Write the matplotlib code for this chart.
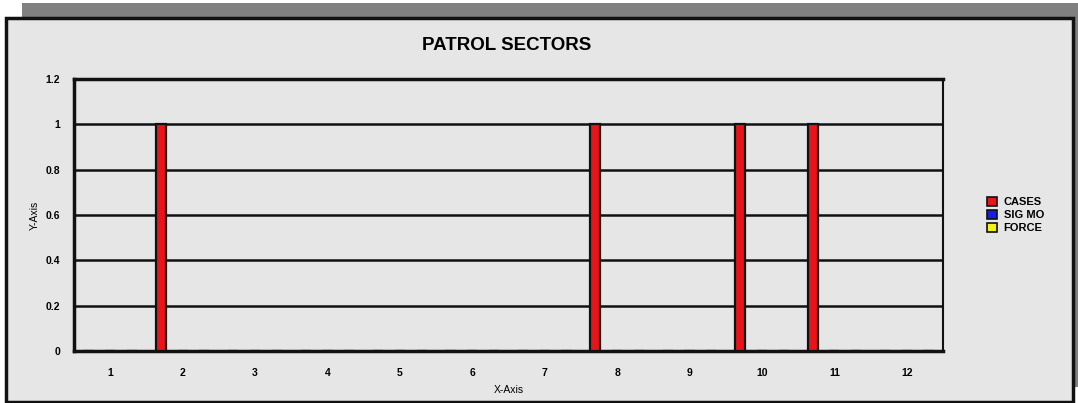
import matplotlib
matplotlib.use("Agg")
from matplotlib import pyplot as plt
from matplotlib.patches import Rectangle, Patch
from matplotlib.ticker import FormatStrFormatter

sectors = [1, 2, 3, 4, 5, 6, 7, 8, 9, 10, 11, 12]
cases = [0, 1, 0, 0, 0, 0, 0, 1, 0, 1, 1, 0]
sig_mo = [0, 0, 0, 0, 0, 0, 0, 0, 0, 0, 0, 0]
force = [0, 0, 0, 0, 0, 0, 0, 0, 0, 0, 0, 0]
series_names = ["CASES", "SIG MO", "FORCE"]
series_colors = ["#E8141A", "#1A1AE8", "#F2F21A"]

plt.rcParams["font.family"] = ["Liberation Sans", "DejaVu Sans"]
bg = "#E6E6E6"

fig = plt.figure(figsize=(10.78, 4.03), dpi=100)
W, H = 1078, 403

# shadow + frame (Excel style chart area), drawn below the axes
fig.patches.append(Rectangle((22 / W, 1 - 387 / H), 1.0, 384 / H,
                             transform=fig.transFigure, facecolor="#808080",
                             edgecolor="none", zorder=-2))
fig.patches.append(Rectangle((6 / W, 1 - 402 / H), 1067 / W, 384 / H,
                             transform=fig.transFigure, facecolor=bg,
                             edgecolor="#111111", linewidth=2.5, zorder=-1))

ax = fig.add_axes([74 / W, 1 - 351 / H, 869 / W, 272 / H])
ax.set_facecolor(bg)

w = 0.14
off = 0.30
for i, (vals, c) in enumerate(zip([cases, sig_mo, force], series_colors)):
    xs = [s + (i - 1) * off for s in sectors]
    ax.bar(xs, vals, w, color=c, edgecolor="#111111", linewidth=1.6, zorder=3)

ax.set_xlim(0.5, 12.5)
ax.set_ylim(0, 1.2)
ax.set_yticks([0, 0.2, 0.4, 0.6, 0.8, 1.0, 1.2])
ax.yaxis.set_major_formatter(FormatStrFormatter("%g"))
ax.set_xticks(sectors)
ax.grid(axis="y", color="#111111", linewidth=1.8, zorder=1)
ax.set_axisbelow(True)
ax.tick_params(length=0, labelsize=7.5)
ax.tick_params(axis="y", pad=10)
ax.tick_params(axis="x", pad=12)
for lab in ax.get_xticklabels() + ax.get_yticklabels():
    lab.set_fontweight("bold")
for side in ["left", "bottom", "top"]:
    ax.spines[side].set_linewidth(2.5)
    ax.spines[side].set_color("#111111")
ax.spines["right"].set_linewidth(1.5)
ax.spines["right"].set_color("#111111")

ax.set_xlabel("X-Axis", fontsize=7.5)
ax.set_ylabel("Y-Axis", fontsize=7.5)
ax.xaxis.set_label_coords(0.5, -0.143)
ax.yaxis.set_label_coords(-0.045, 0.5)
ax.xaxis.label.set_va("center")
ax.yaxis.label.set_va("center")

fig.text(507 / W, 1 - 46 / H, "PATROL SECTORS", fontsize=13.5,
         fontweight="bold", ha="center", va="center")

handles = [Patch(facecolor=c, edgecolor="#111111", linewidth=1.2, label=n)
           for c, n in zip(series_colors, series_names)]
leg = fig.legend(handles=handles, loc="center left",
                 bbox_to_anchor=(977 / W, 1 - 215 / H), frameon=False,
                 handlelength=0.9, handleheight=0.9, handletextpad=0.6,
                 labelspacing=0.25, prop={"size": 8, "weight": "bold"})

fig.savefig("out.png", dpi=100)
